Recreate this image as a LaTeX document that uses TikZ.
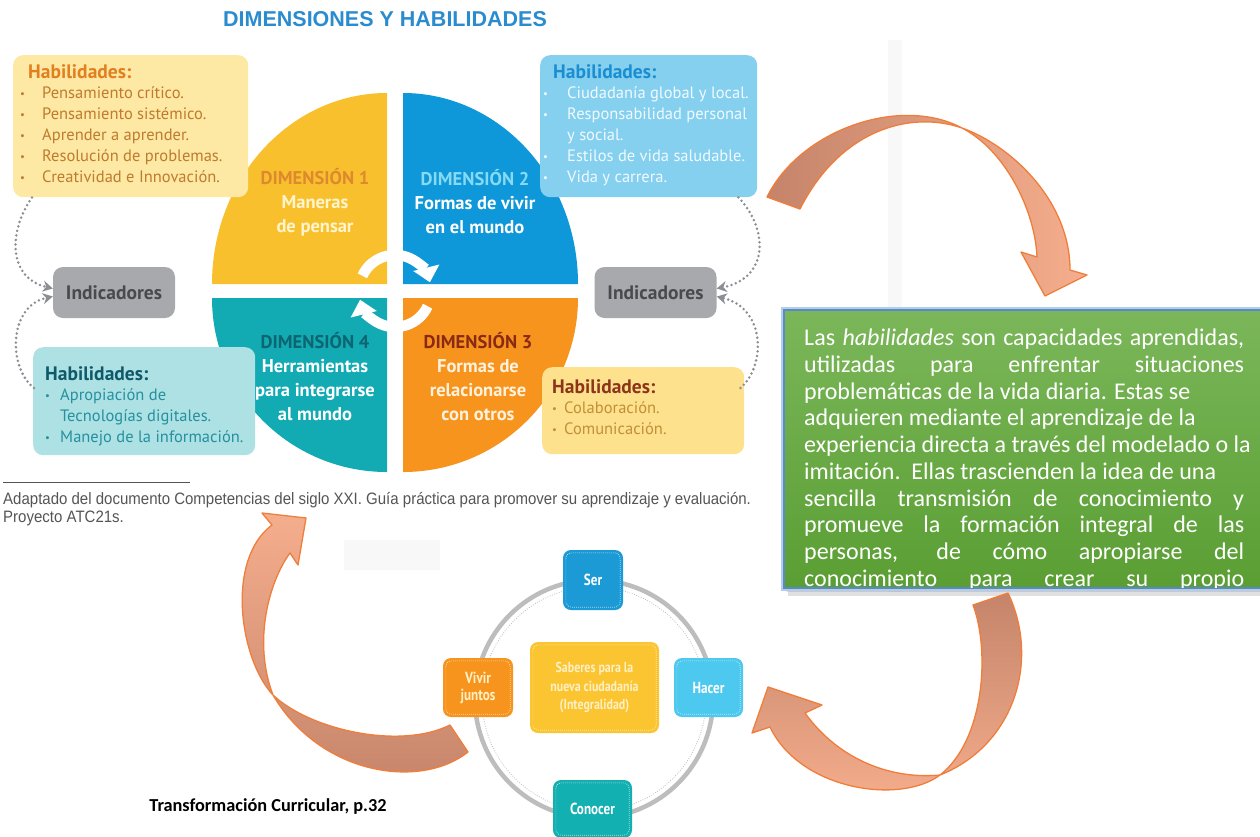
\documentclass[tikz,border=0pt]{standalone}
\usepackage{fontspec}
\usepackage{graphicx}
\setmainfont{PT Sans}
\newfontfamily\fmyr{PT Sans}
\newfontfamily\fcond[FakeStretch=0.82]{PT Sans}
\newfontfamily\fcalib{Carlito}
\newfontfamily\fari{Liberation Sans}
\newfontfamily\fnarrow[FakeStretch=0.91]{Liberation Sans}
\usetikzlibrary{arrows.meta,calc}

\definecolor{qyellow}{HTML}{F9C02E}
\definecolor{qblue}{HTML}{0E97D9}
\definecolor{qorange}{HTML}{F7941E}
\definecolor{qteal}{HTML}{12AAB3}
\definecolor{tlfill}{HTML}{FDE8A4}
\definecolor{tlhead}{HTML}{E27F1E}
\definecolor{tltext}{HTML}{BF7B2E}
\definecolor{trfill}{HTML}{86D0EF}
\definecolor{trhead}{HTML}{1A8ED2}
\definecolor{trtext}{HTML}{F0FAFF}
\definecolor{blfill}{HTML}{AEE1E3}
\definecolor{blhead}{HTML}{0E5A6A}
\definecolor{bltext}{HTML}{2590A0}
\definecolor{brfill}{HTML}{FDE18C}
\definecolor{brhead}{HTML}{8C351B}
\definecolor{brtext}{HTML}{C38F38}
\definecolor{indfill}{HTML}{A7A9AC}
\definecolor{indtext}{HTML}{4A4A4C}
\definecolor{donet}{HTML}{DD8A2E}
\definecolor{donel}{HTML}{FFF4CC}
\definecolor{dtwot}{HTML}{86DAF3}
\definecolor{dfourt}{HTML}{0C6571}
\definecolor{dthreet}{HTML}{8A2A15}
\definecolor{dthreel}{HTML}{FFF2DC}
\definecolor{titleblue}{HTML}{2A8CCF}
\definecolor{dotgray}{HTML}{8C8E96}
\definecolor{arrdark}{HTML}{C5846A}
\definecolor{arrlight}{HTML}{F5AE8D}
\definecolor{arrline}{HTML}{F07E3A}
\definecolor{gtop}{HTML}{7BB75A}
\definecolor{gbot}{HTML}{5A9E33}
\definecolor{gbord}{HTML}{5A8AC6}
\definecolor{gglow}{HTML}{B4CDEB}
\definecolor{serc}{HTML}{1C9AD6}
\definecolor{hacerc}{HTML}{4DC8EE}
\definecolor{vivirc}{HTML}{F7941D}
\definecolor{conocerc}{HTML}{13B0B2}
\definecolor{saberesc}{HTML}{FBC532}
\definecolor{sabtext}{HTML}{FFF0C4}
\definecolor{ringgray}{HTML}{BDBDBD}
\definecolor{captext}{HTML}{555555}
\definecolor{faint}{HTML}{F8F8F8}

\newcommand\bl[1][14pt]{\makebox[#1][l]{\raisebox{0.12ex}{\scalebox{0.65}{\textbullet}}}}

\tikzset{
  habbox/.style={rounded corners=10pt, inner sep=0, anchor=north west},
  listtxt/.style={anchor=north west, inner sep=0, align=left, font=\fmyr\fontsize{16.5}{20.8}\selectfont},
  habhead/.style={},
  dimtxt/.style={inner sep=0, align=center, font=\fmyr\bfseries\fontsize{18.5}{24}\selectfont},
  indbox/.style={rounded corners=10pt, fill=indfill, minimum width=122, minimum height=51, inner sep=0,
                 text=indtext, font=\fmyr\bfseries\fontsize{19.5}{21}\selectfont},
  dotlink/.style={draw=dotgray, line width=2.8pt, line cap=round, dash pattern=on 0pt off 4.6pt,
                  -{Stealth[length=10pt,width=11pt]}},
  ribbon/.style={draw=arrline, line width=1.3pt, line join=round},
  sbox/.style={rounded corners=8pt, inner sep=0, align=center, text=white,
               font=\fcond\bfseries\fontsize{16}{17}\selectfont},
  boxdot/.style={white, line width=0.6pt, dash pattern=on 0.6pt off 1.4pt, rounded corners=6pt},
  whitearr/.style={white, line width=10.5pt, -{Triangle[width=26pt,length=15pt]}}
}

\begin{document}
\begin{tikzpicture}[x=1pt,y=-1pt]
\useasboundingbox (0,0) rectangle (1260,836);
\fill[white] (0,0) rectangle (1260,836);

% faint background remnants
\fill[faint] (888,40) rectangle (902,592);
\fill[faint] (344,540) rectangle (440,570);

% title
\node[inner sep=0, font=\fari\bfseries\fontsize{21.5}{23}\selectfont, text=titleblue] (title) at (385,19) {DIMENSIONES Y HABILIDADES};

% quadrants
\fill[qyellow] (387,284) -- (212,284) arc[start angle=180, end angle=270, x radius=175, y radius=191] -- cycle;
\fill[qblue] (403,284) -- (403,93) arc[start angle=270, end angle=360, x radius=175, y radius=191] -- cycle;
\fill[qorange] (403,298) -- (578,298) arc[start angle=0, end angle=90, x radius=175, y radius=174] -- cycle;
\fill[qteal] (387,298) -- (387,472) arc[start angle=90, end angle=180, x radius=175, y radius=174] -- cycle;

% central white arrows
\draw[whitearr] (395,291) ++(-155:36) arc[start angle=-155, end angle=-14, radius=36];
\draw[whitearr] (395,291) ++(25:36) arc[start angle=25, end angle=166, radius=36];

% dimension labels
\node[dimtxt] (d1) at (315,202) {\textcolor{donet}{DIMENSIÓN 1}\\\textcolor{donel}{Maneras}\\\textcolor{donel}{de pensar}};
\node[dimtxt] (d2) at (475,202) {\textcolor{dtwot}{DIMENSIÓN 2}\\\textcolor{white}{Formas de vivir}\\\textcolor{white}{en el mundo}};
\node[dimtxt] (d4) at (315,377) {\textcolor{dfourt}{DIMENSIÓN 4}\\\textcolor{white}{Herramientas}\\\textcolor{white}{para integrarse}\\\textcolor{white}{al mundo}};
\node[dimtxt] (d3) at (478,377) {\textcolor{dthreet}{DIMENSIÓN 3}\\\textcolor{dthreel}{Formas de}\\\textcolor{dthreel}{relacionarse}\\\textcolor{dthreel}{con otros}};

% habilidades boxes
\node[habbox, fill=tlfill, minimum width=235, minimum height=142] (tlbox) at (13,55) {};
\node[habbox, fill=trfill, minimum width=217, minimum height=142] (trbox) at (540,55) {};
\node[habbox, fill=blfill, minimum width=222, minimum height=108] (blbox) at (33,347) {};
\node[habbox, fill=brfill, minimum width=202, minimum height=87] (brbox) at (542,367) {};

\node[listtxt, text=tltext] (tltxt) at (20,64) {%
  \hspace*{8pt}{\bfseries\fontsize{19.5}{20.8}\selectfont\textcolor{tlhead}{Habilidades:}}\\
  \bl[22pt]Pensamiento crítico.\\
  \bl[22pt]Pensamiento sistémico.\\
  \bl[22pt]Aprender a aprender.\\
  \bl[22pt]Resolución de problemas.\\
  \bl[22pt]Creatividad e Innovación.};
\node[listtxt, text=trtext] (trtxt) at (543,64) {%
  \hspace*{10pt}{\bfseries\fontsize{19.5}{20.8}\selectfont\textcolor{trhead}{Habilidades:}}\\
  \bl[24pt]Ciudadanía global y local.\\
  \bl[24pt]Responsabilidad personal\\
  \hspace*{24pt}y social.\\
  \bl[24pt]Estilos de vida saludable.\\
  \bl[24pt]Vida y carrera.};
\node[listtxt, text=bltext] (bltxt) at (45,366) {%
  {\bfseries\fontsize{19.5}{20.8}\selectfont\textcolor{blhead}{Habilidades:}}\\
  \bl[15pt]Apropiación de\\
  \hspace*{15pt}Tecnologías digitales.\\
  \bl[15pt]Manejo de la información.};
\node[listtxt, text=brtext] (brtxt) at (552,379) {%
  {\bfseries\fontsize{19.5}{20.8}\selectfont\textcolor{brhead}{Habilidades:}}\\
  \bl[12pt]Colaboración.\\
  \bl[12pt]Comunicación.};

% indicadores
\node[indbox] (indL) at (114,292.5) {Indicadores};
\node[indbox] (indR) at (655.5,292.5) {Indicadores};

% dotted connectors
\draw[dotlink] ([xshift=19pt]tlbox.south west) .. controls (8,232) and (8,278) .. ($(indL.west)+(0,-4)$);
\draw[dotlink] ([xshift=1pt,yshift=-41pt]blbox.north west) .. controls (8,368) and (8,306) .. ($(indL.west)+(0,4)$);
\draw[dotlink] ([xshift=-19pt]trbox.south east) .. controls (768,228) and (770,278) .. ($(indR.east)+(0,-4)$);
\draw[dotlink] ([xshift=-4pt,yshift=-21pt]brbox.north east) .. controls (766,366) and (766,308) .. ($(indR.east)+(0,4)$);

% caption
\draw[captext, line width=0.8pt] (3,482) -- (190,482);
\node[anchor=west, inner sep=0, font=\fnarrow\fontsize{16.5}{18}\selectfont, text=captext] (cap1) at (3,500)
  {Adaptado del documento Competencias del siglo XXI. Guía práctica para promover su aprendizaje y evaluación.};
\node[anchor=west, inner sep=0, font=\fnarrow\fontsize{16.5}{18}\selectfont, text=captext] (cap2) at (3,518)
  {Proyecto ATC21s.};

% green text box
\fill[black, opacity=0.12] (788,314) rectangle (1262,596);
\fill[black, opacity=0.10] (786,312) rectangle (1262,592);
\draw[gglow, line width=6pt] (784,310) rectangle (1264,588);
\draw[gbord, line width=2pt, top color=gtop, bottom color=gbot] (784,310) rectangle (1264,588);
\begin{scope}
\clip (785,311) rectangle (1260,587);
\node[anchor=north west, inner sep=0, text=white] (gtxt) at (804,329) {%
\begin{minipage}[t]{440pt}\fcalib\fontsize{24}{26.7}\selectfont\setlength\parindent{0pt}%
\makebox[440pt][s]{Las \textit{habilidades} son capacidades aprendidas,}\par
\makebox[440pt][s]{utilizadas para enfrentar situaciones}\par
\mbox{problemáticas de la vida diaria. Estas se}\par
\mbox{adquieren mediante el aprendizaje de la}\par
\mbox{experiencia directa a través del modelado o la}\par
\mbox{imitación.\ \ Ellas trascienden la idea de una}\par
\makebox[440pt][s]{sencilla transmisión de conocimiento y}\par
\makebox[440pt][s]{promueve la formación integral de las}\par
\makebox[440pt][s]{personas, de cómo apropiarse del}\par
\makebox[440pt][s]{conocimiento para crear su propio}%
\end{minipage}};
\end{scope}

% bottom circle diagram
\draw[ringgray, line width=4.5pt] (594,699) circle[radius=119];
\draw[ringgray, line width=0.8pt, dash pattern=on 0.8pt off 1.6pt] (594,699) circle[radius=112];
\node[sbox, fill=serc, minimum width=60, minimum height=60] (ser) at (593,580) {Ser};
\node[sbox, fill=hacerc, minimum width=69, minimum height=59] (hacer) at (708.5,687.5) {Hacer};
\node[sbox, fill=vivirc, minimum width=70, minimum height=59, text=sabtext] (vivir) at (478,687.5) {Vivir\\juntos};
\node[sbox, fill=conocerc, minimum width=79, minimum height=58] (conocer) at (592.5,809) {Conocer};
\node[sbox, fill=saberesc, minimum width=129, minimum height=91, text=sabtext,
      font=\fcond\bfseries\fontsize{14.5}{18.5}\selectfont] (saberes) at (594.5,687.5) {Saberes para la\\nueva ciudadanía\\(Integralidad)};
\foreach \n in {ser,hacer,vivir,conocer,saberes}
  \draw[boxdot] ([shift={(3,3)}]\n.north west) rectangle ([shift={(-3,-3)}]\n.south east);

% source note
\node[inner sep=0, font=\fcalib\bfseries\fontsize{18.3}{20}\selectfont] (src) at (268,807) {Transformación Curricular, p.32};

% orange ribbon arrows
\draw[ribbon, left color=arrdark, right color=arrlight]
 (767,197) .. controls (800,130) and (900,95) .. (962,128)
 .. controls (1010,145) and (1070,200) .. (1070,270)
 -- (1087,275) -- (1045,296) -- (1021,252) -- (1037,257)
 .. controls (1035,210) and (1005,150) .. (962,128)
 .. controls (910,110) and (840,130) .. (800,209) -- cycle;

\draw[ribbon, top color=arrdark, bottom color=arrlight]
 (1008,593) .. controls (1040,660) and (1015,745) .. (940,775)
 .. controls (900,805) and (800,790) .. (770,727)
 -- (752,733) -- (768,687) -- (822,705) -- (805,713)
 .. controls (835,755) and (885,780) .. (940,775)
 .. controls (985,740) and (990,650) .. (973,605) -- cycle;

\draw[ribbon, top color=arrlight, bottom color=arrdark]
 (468,752) .. controls (420,790) and (320,775) .. (273,695)
 .. controls (240,660) and (225,560) .. (272,525)
 -- (262,513) -- (306,518) -- (298,565) -- (290,553)
 .. controls (270,580) and (252,640) .. (273,695)
 .. controls (310,730) and (400,750) .. (450,725) -- cycle;
\end{tikzpicture}
\end{document}
